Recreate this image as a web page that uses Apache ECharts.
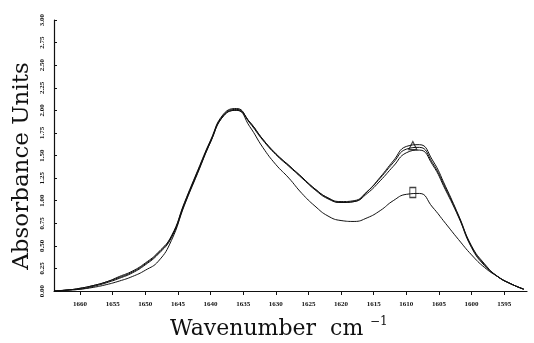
<!DOCTYPE html>
<html>
<head>
<meta charset="utf-8">
<script src="https://cdn.jsdelivr.net/npm/echarts@6/dist/echarts.min.js"></script>
<style>html,body{margin:0;padding:0;background:#fff;}#c{width:534px;height:343px;}</style>
</head>
<body>
<div id="c"></div>
<script>
var wavenumbers = [1664,1662,1660,1658,1656,1654,1652,1650,1648,1646,1644,1642,1640,1638,1636,1634,1632,1630,1628,1626,1624,1622,1620,1618,1616,1614,1612,1610,1608,1606,1604,1602,1600,1598,1596,1594,1592];
var upper1 = [0.00,0.01,0.03,0.06,0.10,0.15,0.21,0.30,0.42,0.60,0.97,1.32,1.66,1.95,2.01,1.87,1.68,1.52,1.39,1.26,1.13,1.03,0.99,1.00,1.10,1.25,1.42,1.57,1.59,1.42,1.14,0.83,0.49,0.29,0.16,0.08,0.02];
var upper2 = [0.00,0.01,0.03,0.06,0.10,0.16,0.22,0.31,0.43,0.61,0.98,1.33,1.67,1.96,2.02,1.86,1.67,1.51,1.38,1.25,1.12,1.02,0.98,0.99,1.10,1.26,1.44,1.60,1.62,1.45,1.16,0.84,0.50,0.30,0.16,0.08,0.02];
var upper3 = [0.00,0.01,0.02,0.05,0.09,0.14,0.20,0.29,0.41,0.59,0.96,1.31,1.65,1.94,2.00,1.87,1.68,1.52,1.39,1.26,1.13,1.03,0.98,0.99,1.08,1.22,1.38,1.53,1.56,1.40,1.12,0.82,0.48,0.28,0.16,0.08,0.02];
var lower = [0.00,0.01,0.02,0.04,0.07,0.11,0.16,0.23,0.33,0.56,0.95,1.30,1.65,1.94,2.00,1.82,1.59,1.40,1.25,1.08,0.94,0.83,0.78,0.77,0.81,0.89,1.00,1.07,1.08,0.93,0.75,0.57,0.40,0.26,0.16,0.08,0.02];
var xTicks = [1660,1655,1650,1645,1640,1635,1630,1625,1620,1615,1610,1605,1600,1595];
var yTicks = [0,0.25,0.5,0.75,1,1.25,1.5,1.75,2,2.25,2.5,2.75,3];
var markerUpper = [[1609, 1.61]];
var markerLower = [[1609, 1.09]];

function pairs(ys){ return wavenumbers.map(function(w,i){ return [w, ys[i]]; }); }
function lineSeries(ys){
  return {type:'line', data:pairs(ys), smooth:0.5, showSymbol:false, silent:true,
    lineStyle:{color:'#111', width:1}};
}
var chart = echarts.init(document.getElementById('c'), null, {renderer:'canvas'});
chart.setOption({
  animation:false,
  backgroundColor:'#fff',
  grid:{left:54, right:7, top:20, bottom:52},
  xAxis:{type:'value', min:1591.5, max:1664, inverse:true,
    axisLine:{show:true, lineStyle:{color:'#111', width:1.2}},
    axisTick:{show:true, inside:false, length:4, customValues:xTicks, lineStyle:{color:'#111'}},
    axisLabel:{customValues:xTicks, margin:10, fontFamily:'Liberation Serif', fontSize:7, fontWeight:'bold', color:'#111',
      formatter:function(v){ return String(v); }},
    splitLine:{show:false}},
  yAxis:{type:'value', min:0, max:3,
    axisLine:{show:true, lineStyle:{color:'#111', width:1.2}},
    axisTick:{show:true, inside:true, length:3, customValues:yTicks, lineStyle:{color:'#111'}},
    axisLabel:{customValues:yTicks, rotate:90, margin:8, fontFamily:'Liberation Serif', fontSize:7, fontWeight:'bold', color:'#111',
      formatter:function(v){ return v.toFixed(2); }},
    splitLine:{show:false}},
  series:[
    lineSeries(upper1), lineSeries(upper2), lineSeries(upper3), lineSeries(lower),
    {type:'scatter', data:markerUpper, symbol:'triangle', symbolSize:8, itemStyle:{color:'#fff', borderColor:'#111', borderWidth:1.2}},
    {type:'scatter', data:markerLower, symbol:'rect', symbolSize:[6,10], itemStyle:{color:'#fff', borderColor:'#111', borderWidth:1.2}}
  ],
  graphic:[
    {type:'text', left:170, top:318, style:{text:'Wavenumber  cm', font:'22px "DejaVu Serif"', fill:'#111'}},
    {type:'text', left:370, top:316, style:{text:'\u22121', font:'12px "DejaVu Serif"', fill:'#111'}},
    {type:'text', x:22, y:166, rotation:Math.PI/2, style:{text:'Absorbance Units', font:'23px "DejaVu Serif"', fill:'#111', align:'center', verticalAlign:'middle'}}
  ]
});
</script>
</body>
</html>
